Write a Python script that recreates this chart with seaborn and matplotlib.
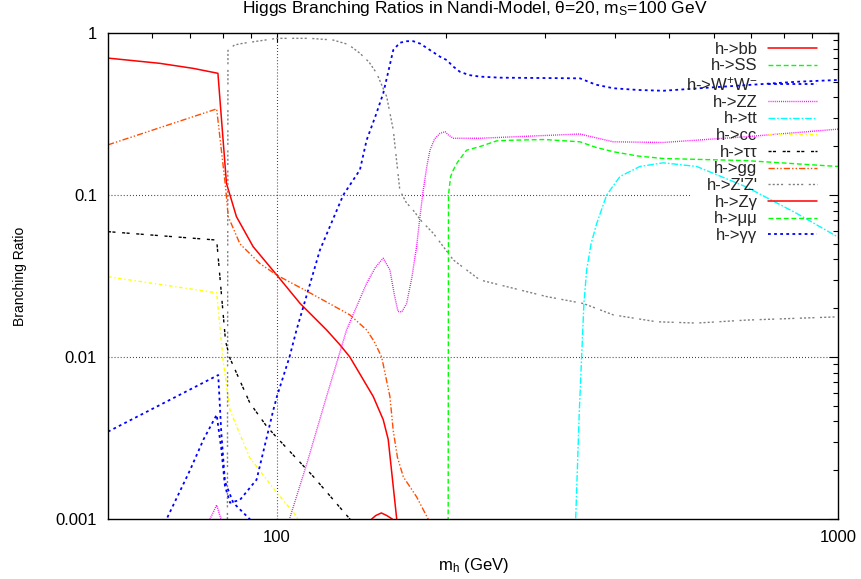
import matplotlib
matplotlib.use("Agg")
import matplotlib.pyplot as plt
from matplotlib.ticker import FixedLocator, FixedFormatter, NullFormatter
import pandas as pd
import seaborn as sns

# Higgs mass (GeV) and branching ratio for every decay channel
bb_m = [50, 61.8, 70.9, 78.5, 81.3, 84.7, 90.7, 100, 110, 122.6, 129.5, 134.9, 148.5, 154.7, 157.9, 163.5, 166]
bb_br = [0.70, 0.65, 0.605, 0.564, 0.118, 0.0735, 0.048, 0.032, 0.0214, 0.0147, 0.0119, 0.0100, 0.0057, 0.0041, 0.0031, 0.001, 0.0005]

ss_m = [201.9, 202.2, 204, 206.3, 210, 217.8, 230, 246.6, 263.7, 300, 346.8, 370, 397.6, 440, 488, 687, 1000]
ss_br = [0.0005, 0.1, 0.13, 0.143, 0.16, 0.189, 0.199, 0.216, 0.218, 0.22, 0.213, 0.197, 0.185, 0.174, 0.168, 0.163, 0.15]

ww_m = [60, 63.6, 70, 74, 78.1, 79.6, 80.8, 82.5, 85.9, 92, 98.5, 100, 105.3, 108.4, 119.3, 131.3, 140.6, 144.5,
        150, 154.7, 158, 161.2, 165.6, 170, 175, 180, 187.4, 195.3, 200.7, 206.3, 211.8, 220, 230, 249.7, 346.8,
        370, 397.6, 440, 488, 599, 844, 1000]
ww_br = [0.0007, 0.001, 0.002, 0.0031, 0.0044, 0.0027, 0.0016, 0.00126, 0.00131, 0.00175, 0.00468, 0.0057, 0.01,
         0.0147, 0.0457, 0.1, 0.143, 0.218, 0.31, 0.424, 0.58, 0.785, 0.87, 0.89, 0.89, 0.86, 0.785, 0.714, 0.681,
         0.62, 0.577, 0.55, 0.538, 0.53, 0.525, 0.48, 0.456, 0.445, 0.44, 0.462, 0.5, 0.513]

zz_m = [74, 76, 78.1, 79.5, 80.5, 90, 104, 105.3, 113, 122.6, 133.1, 144.5, 150, 154.7, 159, 162, 164.4, 167, 170.3,
        174, 177.4, 180, 182.3, 185, 187.4, 191, 195.3, 199.4, 202, 206.3, 230, 346.8, 397.6, 488, 687, 1000]
zz_br = [0.0008, 0.001, 0.00122, 0.001, 0.0007, 0.0004, 0.0008, 0.001, 0.00218, 0.0057, 0.0147, 0.0285, 0.036, 0.0407,
         0.0345, 0.024, 0.0191, 0.019, 0.0214, 0.031, 0.048, 0.075, 0.107, 0.15, 0.189, 0.222, 0.24, 0.246, 0.235,
         0.224, 0.224, 0.238, 0.213, 0.211, 0.229, 0.255]

tt_m = [340, 340.8, 345.8, 349.2, 352.5, 356.5, 363, 371.5, 387, 408.7, 443.6, 488, 560, 687, 844, 1000]
tt_br = [0.0006, 0.001, 0.0045, 0.01, 0.0214, 0.0345, 0.05, 0.0667, 0.1, 0.13, 0.15, 0.158, 0.15, 0.112, 0.077, 0.055]

cc_m = [50, 78.1, 80.2, 82.5, 89.4, 100, 108.4, 112]
cc_br = [0.0313, 0.0249, 0.0095, 0.00468, 0.0024, 0.00145, 0.00104, 0.0008]

tautau_m = [50, 78.1, 81.0, 82.5, 89.5, 95.9, 100, 116.1, 134.9, 140]
tautau_br = [0.0594, 0.0527, 0.0125, 0.0098, 0.0052, 0.00373, 0.00318, 0.00183, 0.001, 0.0008]

gg_m = [50, 78.1, 81.0, 81.9, 85.9, 93.2, 100, 114.5, 134.9, 144.5, 149, 153.7, 159, 161.2, 164, 168, 177.4, 186, 190]
gg_br = [0.204, 0.34, 0.112, 0.0735, 0.050, 0.0378, 0.032, 0.0249, 0.0182, 0.0147, 0.0125, 0.01, 0.0057, 0.0035,
         0.0024, 0.00182, 0.00137, 0.001, 0.0007]

zpzp_m = [81.6, 81.8, 84, 87, 100, 114.5, 125.9, 134, 140.6, 146, 150.6, 156.9, 161.2, 165.6, 170, 174.8, 181, 190,
          206.3, 230, 302.5, 351.6, 397.6, 475, 560, 687, 1000]
zpzp_br = [0.0005, 0.78, 0.843, 0.864, 0.927, 0.927, 0.905, 0.85, 0.75, 0.66, 0.564, 0.405, 0.252, 0.107, 0.09,
           0.0808, 0.069, 0.058, 0.0397, 0.0299, 0.0236, 0.0214, 0.0182, 0.0165, 0.0162, 0.0169, 0.0177]

zgam_m = [140, 147.6, 150, 153.5, 157, 160.5, 164]
zgam_br = [0.0008, 0.001, 0.00105, 0.00109, 0.00105, 0.001, 0.0008]

mumu_m = [50, 78.1, 82.5, 100, 140]
mumu_br = [0.00021, 0.00019, 0.000035, 0.000011, 0.000003]

gamgam_m = [50, 78.6, 79.6, 80.8, 83.6, 89.4, 95]
gamgam_br = [0.00346, 0.00774, 0.0034, 0.0017, 0.00126, 0.001, 0.0008]

labels = ["h->bb", "h->SS", "h->W$^{+}$W$^{-}$", "h->ZZ", "h->tt", "h->cc", "h->ττ",
          "h->gg", "h->Z'Z'", "h->Zγ", "h->μμ", "h->γγ"]

sns.set_theme(style="white")
plt.rcParams["font.family"] = ["Liberation Sans", "DejaVu Sans"]
plt.rcParams["mathtext.fontset"] = "custom"
plt.rcParams["mathtext.rm"] = "Liberation Sans"
plt.rcParams["mathtext.it"] = "Liberation Sans"
plt.rcParams["mathtext.default"] = "regular"
plt.rcParams["lines.scale_dashes"] = False

# colour, dash pattern (points) and width of each channel, in legend order
styles = [
    ("#FF0000", "-", 1.1),
    ("#00FF00", (0, (3.5, 2.0)), 1.0),
    ("#0000FF", (0, (2.0, 2.4)), 1.3),
    ("#FF00FF", (0, (0.7, 0.8)), 1.0),
    ("#00FFFF", (0, (4.8, 1.4, 1.2, 1.4)), 1.0),
    ("#FFFF00", (0, (2.5, 2.0, 0.9, 2.0)), 1.0),
    ("#000000", (0, (2.2, 1.0, 2.2, 4.8)), 1.0),
    ("#FF4D00", (0, (4.5, 1.5, 1.0, 1.5, 1.0, 1.5)), 1.0),
    ("#808080", (0, (1.5, 1.5, 1.5, 1.5, 1.5, 1.5, 1.5, 4.0)), 1.0),
    ("#FF0000", "-", 1.1),
    ("#00FF00", (0, (3.5, 2.0)), 1.0),
    ("#0000FF", (0, (2.0, 2.4)), 1.3),
]

series = [(bb_m, bb_br), (ss_m, ss_br), (ww_m, ww_br), (zz_m, zz_br), (tt_m, tt_br), (cc_m, cc_br),
          (tautau_m, tautau_br), (gg_m, gg_br), (zpzp_m, zpzp_br), (zgam_m, zgam_br), (mumu_m, mumu_br),
          (gamgam_m, gamgam_br)]

fig = plt.figure(figsize=(8.61, 5.79), dpi=100)
ax = fig.add_axes([108 / 861, 1 - 519 / 579, 730 / 861, 486 / 579])
ax.set_xscale("log")
ax.set_yscale("log")

for (m, br), label, (color, ls, lw) in zip(series, labels, styles):
    df = pd.DataFrame({"m": m, "br": br})
    sns.lineplot(data=df, x="m", y="br", ax=ax, color=color, linestyle=ls, linewidth=lw,
                 label=label, estimator=None, sort=False)

ax.set_xlim(50, 1000)
ax.set_ylim(0.001, 1)

# dotted grid at the major ticks
grid_kw = dict(color="#202020", linewidth=0.8, linestyle=(0, (0.6, 1.6)), zorder=0.5)
ax.axvline(100, **grid_kw)
ax.axhline(0.01, **grid_kw)
ax.axhline(0.1, xmax=0.797, **grid_kw)

ax.xaxis.set_major_locator(FixedLocator([100, 1000]))
ax.xaxis.set_major_formatter(FixedFormatter(["100", "1000"]))
ax.xaxis.set_minor_locator(FixedLocator([60, 70, 80, 90, 200, 300, 400, 500, 600, 700, 800, 900]))
ax.xaxis.set_minor_formatter(NullFormatter())
ax.yaxis.set_major_locator(FixedLocator([0.001, 0.01, 0.1, 1]))
ax.yaxis.set_major_formatter(FixedFormatter(["0.001", "0.01", "0.1", "1"]))
ax.yaxis.set_minor_locator(FixedLocator([k * 10.0 ** e for e in (-3, -2, -1) for k in range(2, 10)]))
ax.yaxis.set_minor_formatter(NullFormatter())

ax.tick_params(which="both", direction="in", top=True, right=True, color="black", width=0.8,
               labelsize=12, labelcolor="black")
ax.tick_params(which="major", length=6.5)
ax.tick_params(which="minor", length=3.5)
ax.tick_params(axis="x", which="major", pad=8)
ax.tick_params(axis="y", which="major", pad=8)
for sp in ax.spines.values():
    sp.set_color("black")
    sp.set_linewidth(1.0)

ax.set_xlabel("m$_{h}$ (GeV)", fontsize=12, color="black")
ax.xaxis.label.set_va("center")
ax.xaxis.set_label_coords(0.5, -0.0947)
ax.set_ylabel("Branching Ratio", fontsize=10, color="black", ha="center", va="center")
ax.yaxis.set_label_coords(-0.1205, 0.5)
ax.text(0.5027, 1.0514, "Higgs Branching Ratios in Nandi-Model, θ=20, m$_{S}$=100 GeV",
        transform=ax.transAxes, fontsize=12.5, color="black", ha="center", va="center")

ax.legend(loc="upper right", bbox_to_anchor=(0.971, 0.982), frameon=False, markerfirst=False,
          fontsize=12, handlelength=2.9, handletextpad=0.66, labelspacing=0.1,
          borderaxespad=0, borderpad=0)

fig.savefig("out.png", dpi=100)
